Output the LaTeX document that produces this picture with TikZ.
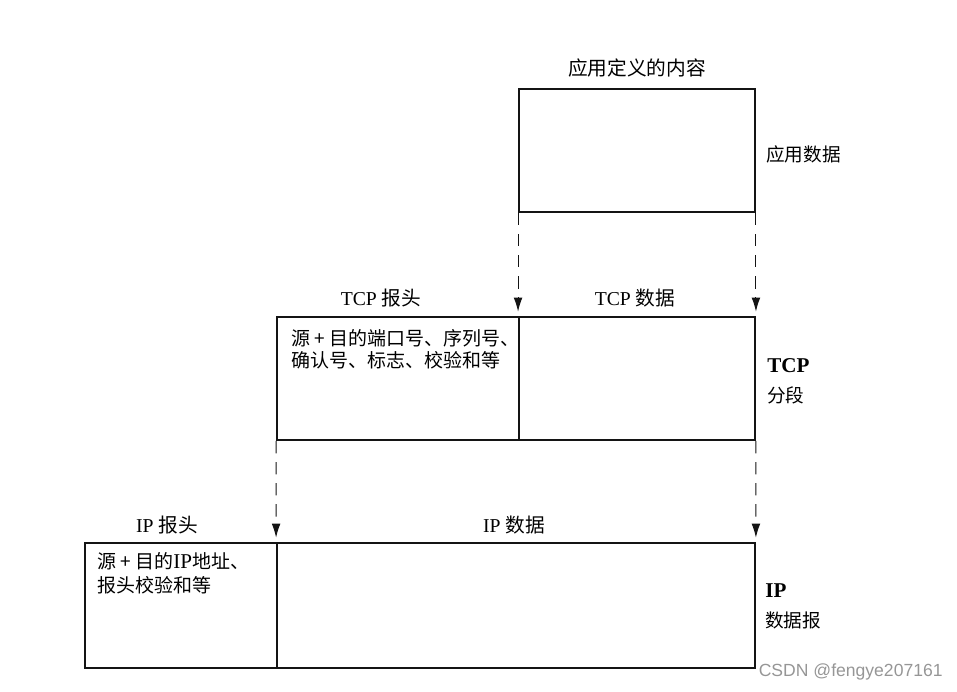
\documentclass[tikz,border=0pt]{standalone}
\usepackage{fontspec}
\setmainfont{Liberation Serif}
\newfontfamily\cjk{Noto Sans CJK SC}
\newfontfamily\wmfont{Liberation Sans}
\usetikzlibrary{arrows.meta,positioning}
\definecolor{pktline}{RGB}{20,20,20}
\definecolor{wmgray}{RGB}{150,150,150}
\newcommand{\zh}[1]{{\cjk #1}}

\begin{document}
\begin{tikzpicture}[x=0.02cm,y=-0.02cm,
    box/.style={draw=pktline, line width=1.1pt, minimum height=2.46cm, inner sep=0pt},
    dasharrow/.style={pktline, line width=0.6pt, dash pattern=on 7pt off 5pt, -{Latex[length=8pt,width=5pt]}, shorten >=2.5pt},
    lbl/.style={font=\fontsize{11.2}{13}\selectfont, inner sep=1pt},
    side/.style={font=\fontsize{10.6}{15}\selectfont, anchor=west, align=left, inner sep=0pt},
    hdrtxt/.style={font=\fontsize{10.8}{12.6}\selectfont, align=left, anchor=north west, inner sep=0pt}]
  \useasboundingbox (0,0) rectangle (957,691);
  % application data
  \node[box, minimum width=4.72cm] (app) at (637,150.5) {};
  \node[lbl] (applbl) at (637,68) {\zh{应用定义的内容}};
  \node[side] (appside) at (766,154) {\zh{应用数据}};
  % tcp segment
  \node[box, minimum width=4.84cm] (tcphdr) at (398,378.5) {};
  \node[box, minimum width=4.72cm] (tcpdata) at (637,378.5) {};
  \node[lbl] (tcphdrlbl) at (381,298) {TCP \zh{报头}};
  \node[lbl] (tcpdatalbl) at (635,298) {TCP \zh{数据}};
  \node[hdrtxt] (tcphdrtxt) at (291,329) {\zh{源 + 目的端口号、序列号、}\\\zh{确认号、标志、校验和等}};
  \node[side] (tcpside) at (767,381) {\textbf{\large TCP}\\[2pt]\zh{分段}};
  % ip datagram
  \node[box, minimum width=3.84cm, minimum height=2.5cm] (iphdr) at (181,605.5) {};
  \node[box, minimum width=9.56cm, minimum height=2.5cm] (ipdata) at (516,605.5) {};
  \node[lbl] (iphdrlbl) at (167,525) {IP \zh{报头}};
  \node[lbl] (ipdatalbl) at (514,525) {IP \zh{数据}};
  \node[hdrtxt, font=\fontsize{10.8}{14}\selectfont] (iphdrtxt) at (97,552) {\zh{源 + 目的}{\large IP}\zh{地址、}\\\zh{报头校验和等}};
  \node[side] (ipside) at (765,606) {\textbf{\large IP}\\[2pt]\zh{数据报}};
  % dashed mapping arrows
  \draw[dasharrow] (app.south west) -- (tcpdata.north west);
  \draw[dasharrow] (app.south east) -- (tcpdata.north east);
  \draw[dasharrow] (tcphdr.south west) -- (ipdata.north west);
  \draw[dasharrow] (tcpdata.south east) -- (ipdata.north east);
  % watermark
  \node[font=\wmfont\fontsize{10}{12}\selectfont, text=wmgray, anchor=east, inner sep=0pt] (wm) at (943,672) {CSDN @fengye207161};
\end{tikzpicture}
\end{document}
